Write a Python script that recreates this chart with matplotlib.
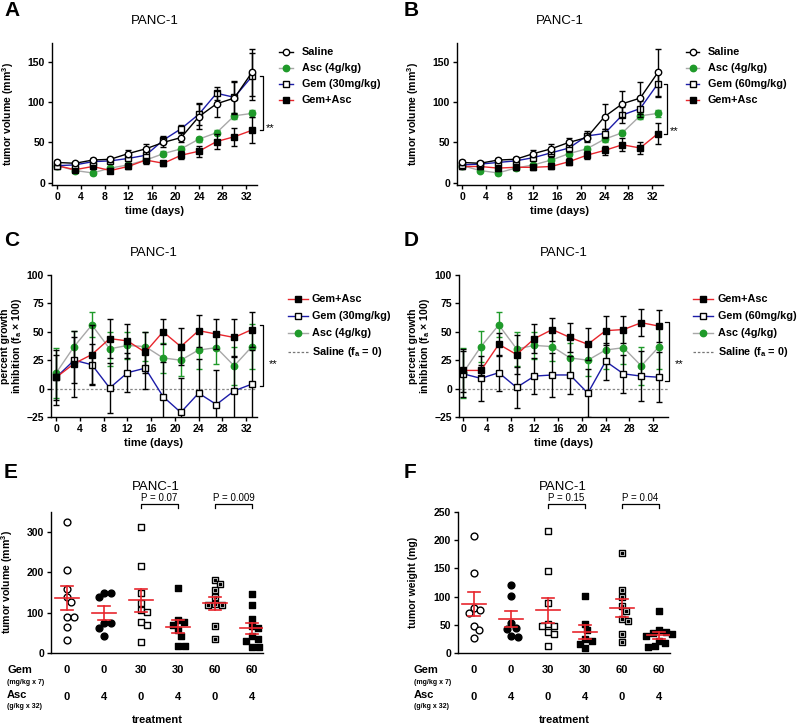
import matplotlib
matplotlib.use("Agg")
import matplotlib.pyplot as plt
from matplotlib.lines import Line2D
import numpy as np

plt.rcParams['font.family'] = ['Liberation Sans', 'DejaVu Sans']
plt.rcParams['font.size'] = 7.5
plt.rcParams['axes.linewidth'] = 1.0
plt.rcParams['mathtext.fontset'] = 'custom'
plt.rcParams['mathtext.rm'] = 'Liberation Sans:bold'
plt.rcParams['mathtext.default'] = 'regular'

# ---- data -------------------------------------------------------------
days = [0, 3, 6, 9, 12, 15, 18, 21, 24, 27, 30, 33]

# tumor volume (mm3), A and B
vol_saline = [25, 24, 28, 29, 36, 42, 50, 56, 82, 98, 105, 137]
vol_saline_err = [3, 2, 3, 3, 4, 6, 6, 6, 16, 16, 20, 29]
vol_asc = [21, 15, 12, 18, 22, 28, 36, 42, 54, 62, 83, 86]
vol_asc_err = [2, 2, 2, 2, 2, 3, 3, 3, 3, 3, 4, 4]
vol_gem30 = [21, 22, 26, 27, 30, 34, 53, 67, 85, 111, 106, 132]
vol_gem30_err = [3, 2, 3, 3, 3, 5, 5, 5, 14, 8, 20, 29]
vol_gem30_asc = [21, 16, 20, 15, 20, 28, 24, 34, 39, 51, 57, 65]
vol_gem30_asc_err = [3, 3, 3, 3, 3, 5, 3, 5, 7, 9, 11, 16]
vol_gem60 = [22, 23, 25, 27, 31, 37, 43, 58, 61, 84, 92, 123]
vol_gem60_err = [3, 3, 3, 3, 3, 5, 5, 6, 5, 10, 10, 16]
vol_gem60_asc = [20, 20, 18, 19, 19, 20, 26, 34, 40, 47, 43, 61]
vol_gem60_asc_err = [3, 3, 3, 3, 3, 3, 4, 5, 6, 8, 8, 13]

# percent growth inhibition, C and D
inh_asc = [14, 37, 56, 35, 38, 37, 27, 25, 34, 36, 20, 37]
inh_asc_err = [22, 14, 11, 15, 12, 13, 13, 14, 17, 14, 17, 20]
inh_c_combo = [10, 22, 30, 44, 42, 32, 50, 37, 51, 48, 45, 52]
inh_c_combo_err = [24, 29, 26, 17, 15, 18, 11, 16, 14, 13, 16, 15]
inh_c_gem = [10, 25, 21, 0.5, 14, 18, -7, -21, -4, -14, -2, 4]
inh_c_gem_err = [20, 20, 18, 22, 17, 18, 30, 30, 30, 30, 30, 30]
inh_d_combo = [16, 16, 39, 30, 44, 52, 45, 39, 51, 52, 58, 55]
inh_d_combo_err = [19, 5, 10, 17, 13, 10, 13, 14, 13, 12, 12, 14]
inh_d_gem = [13, 9, 14, 1, 11, 12, 12, -4, 24, 13, 11, 10]
inh_d_gem_err = [20, 20, 16, 18, 16, 19, 17, 21, 16, 17, 22, 22]

# endpoint scatter, E (volume) and F (weight)
gem_doses = ['0', '0', '30', '30', '60', '60']
asc_doses = ['0', '4', '0', '4', '0', '4']
e_groups = [
    [326, 205, 159, 140, 127, 89, 89, 64, 33],
    [150, 148, 139, 74, 74, 63, 43],
    [312, 216, 149, 124, 106, 101, 76, 69, 28],
    [161, 81, 76, 70, 56, 41, 17, 17],
    [182, 171, 157, 138, 121, 118, 119, 68, 35],
    [146, 120, 84, 66, 62, 41, 35, 31, 15, 14],
]
f_groups = [
    [208, 141, 80, 76, 71, 48, 40, 27],
    [121, 101, 53, 45, 43, 30, 28],
    [216, 145, 89, 52, 48, 47, 37, 33, 12],
    [101, 51, 40, 24, 22, 16, 9],
    [178, 111, 99, 83, 74, 60, 56, 33, 20],
    [74, 40, 38, 35, 33, 31, 22, 17, 12, 11],
]

GREEN = '#1f9a2a'
GRAY = '#a8a8a8'
BLUE = '#1c1ca8'
RED = '#e8262d'

W, H = 800, 725
fig = plt.figure(figsize=(W / 100, H / 100), dpi=100)


def add_ax(l, t, r, b):
    return fig.add_axes([l / W, 1 - b / H, (r - l) / W, (b - t) / H])


def fx(x):
    return x / W


def fy(y):
    return 1 - y / H


def style_ax(ax):
    for s in ['top', 'right']:
        ax.spines[s].set_visible(False)
    ax.tick_params(direction='out', length=3, width=1, labelsize=7.5, pad=2)
    for lab in ax.get_xticklabels() + ax.get_yticklabels():
        lab.set_fontweight('bold')


STYLES = {
    'saline': dict(marker='o', mfc='white', mec='black', line='black', ecolor='black'),
    'asc': dict(marker='o', mfc=GREEN, mec=GREEN, line=GRAY, ecolor=GREEN),
    'gem': dict(marker='s', mfc='white', mec='black', line=BLUE, ecolor='black'),
    'combo': dict(marker='s', mfc='black', mec='black', line=RED, ecolor='black'),
}


def plot_series(ax, y, err, key, z):
    st = STYLES[key]
    ax.errorbar(days, y, yerr=err, color=st['line'], lw=1, marker=st['marker'],
                mfc=st['mfc'], mec=st['mec'], mew=1, ms=4.6, ecolor=st['ecolor'],
                elinewidth=1, capsize=2.5, capthick=1, zorder=z)


def legend(x0, x1, xt, ys, keys, labels):
    for y, key, lab in zip(ys, keys, labels):
        if key == 'dash':
            fig.add_artist(Line2D([fx(x0), fx(x1)], [fy(y), fy(y)], color='#777777',
                                  lw=0.9, ls=(0, (2, 1.5)), transform=fig.transFigure))
        else:
            st = STYLES[key]
            fig.add_artist(Line2D([fx(x0), fx(x1)], [fy(y), fy(y)], color=st['line'],
                                  lw=1, transform=fig.transFigure))
            fig.add_artist(Line2D([fx((x0 + x1) / 2)], [fy(y)], marker=st['marker'],
                                  mfc=st['mfc'], mec=st['mec'], ms=4.6, mew=1,
                                  transform=fig.transFigure))
        fig.text(fx(xt), fy(y), lab, fontsize=7.8, fontweight='bold', va='center', ha='left')


def bracket(ax, x, y0, y1, dx=0.6):
    ax.plot([x - dx, x, x, x - dx], [y0, y0, y1, y1], color='black', lw=0.9, clip_on=False)


# ---- A and B -----------------------------------------------------------
for pos, gem, gem_err, combo, combo_err, letter, lx, legx, gemlab, bx in [
    ((52, 43, 257, 185), vol_gem30, vol_gem30_err, vol_gem30_asc, vol_gem30_asc_err,
     'A', 4, (279, 293, 302), 'Gem (30mg/kg)', 34.9),
    ((457, 43, 663, 185), vol_gem60, vol_gem60_err, vol_gem60_asc, vol_gem60_asc_err,
     'B', 404, (686, 699, 708), 'Gem (60mg/kg)', 34.6),
]:
    ax = add_ax(*pos)
    plot_series(ax, combo, combo_err, 'combo', 3)
    plot_series(ax, vol_asc, vol_asc_err, 'asc', 2)
    plot_series(ax, gem, gem_err, 'gem', 4)
    plot_series(ax, vol_saline, vol_saline_err, 'saline', 5)
    ax.set_xlim(-0.9, 33.85)
    ax.set_ylim(-3, 173.5)
    ax.set_xticks(range(0, 33, 4))
    ax.set_yticks([0, 50, 100, 150])
    ax.set_xlabel('time (days)', fontweight='bold', fontsize=8, labelpad=3)
    ax.set_ylabel(r'tumor volume (mm$^\mathregular{3}$)', fontweight='bold', fontsize=7.6)
    ax.yaxis.set_label_coords(-0.175, 0.5)
    ax.set_title('PANC-1', fontsize=9.5, pad=14)
    style_ax(ax)
    bracket(ax, bx, gem[-1], combo[-1])
    ax.text(bx + 0.4, combo[-1] + 3, '**', fontsize=8, ha='left', va='center')
    fig.text(fx(lx), fy(10), letter, fontsize=15, fontweight='bold', va='center')
    legend(legx[0], legx[1], legx[2], [52, 68, 84, 100], ['saline', 'asc', 'gem', 'combo'],
           ['Saline', 'Asc (4g/kg)', gemlab, 'Gem+Asc'])

# ---- C and D -----------------------------------------------------------
for pos, gem, gem_err, combo, combo_err, letter, lx, legx, gemlab, bx, xl, blow in [
    ((51, 275, 257, 417), inh_c_gem, inh_c_gem_err, inh_c_combo, inh_c_combo_err,
     'C', 4, (288, 308, 312), 'Gem (30mg/kg)', 34.9, (-0.9, 33.85), 2),
    ((459, 275, 668, 417), inh_d_gem, inh_d_gem_err, inh_d_combo, inh_d_combo_err,
     'D', 404, (693, 713, 718), 'Gem (60mg/kg)', 34.6, (-0.7, 34.5), 7),
]:
    ax = add_ax(*pos)
    ax.axhline(0, color='#888888', lw=0.9, ls=(0, (2, 1.5)), zorder=1)
    plot_series(ax, inh_asc, inh_asc_err, 'asc', 2)
    plot_series(ax, gem, gem_err, 'gem', 3)
    plot_series(ax, combo, combo_err, 'combo', 4)
    ax.set_xlim(*xl)
    ax.set_ylim(-25, 100)
    ax.set_xticks(range(0, 33, 4))
    ax.set_yticks([-25, 0, 25, 50, 75, 100])
    ax.set_xlabel('time (days)', fontweight='bold', fontsize=8, labelpad=3)
    ax.set_ylabel('percent growth\n' + r'inhibition (f$_\mathregular{a}$ $\times$ 100)',
                  fontweight='bold', fontsize=7.6, linespacing=1.0)
    ax.yaxis.set_label_coords(-0.13, 0.5)
    ax.set_title('PANC-1', fontsize=9.5, pad=14)
    style_ax(ax)
    bracket(ax, bx, combo[-1] + 4, blow)
    ax.text(bx + 1.0, 22, '**', fontsize=8, ha='left', va='center')
    fig.text(fx(lx), fy(240), letter, fontsize=15, fontweight='bold', va='center')
    legend(legx[0], legx[1], legx[2], [299, 316, 333, 352], ['combo', 'gem', 'asc', 'dash'],
           ['Gem+Asc', gemlab, 'Asc (4g/kg)', r'Saline (f$_\mathregular{a}$ = 0)'])


# ---- E and F -----------------------------------------------------------
def swarm(values, ypx, xpx, d=6.6):
    # simple beeswarm: nudge each point sideways until it clears the others
    order = np.argsort(values)[::-1]
    placed = []
    xs = np.zeros(len(values))
    cands = [0.0]
    for k in range(1, 60):
        cands += [k * 0.5, -k * 0.5]
    for i in order:
        y = values[i] * ypx
        for c in cands:
            if all((c - px) ** 2 + (y - py) ** 2 >= d * d for px, py in placed):
                break
        placed.append((c, y))
        xs[i] = c / xpx
    return xs


E_MARK = [
    dict(marker='o', fc='white'), dict(marker='o', fc='black'),
    dict(marker='s', fc='white'), dict(marker='s', fc='black'),
    dict(marker='s', fc='white', dot=True), dict(marker='s', fc='black'),
]

for pos, groups, ymax, yt, ylab, letter, lx, pvals, ylpos in [
    ((51, 512, 263, 653), e_groups, 350, [0, 100, 200, 300],
     r'tumor volume (mm$^\mathregular{3}$)', 'E', 4, ['P = 0.07', 'P = 0.009'], -0.17),
    ((458, 512, 670, 653), f_groups, 250, [0, 50, 100, 150, 200, 250],
     'tumor weight (mg)', 'F', 404, ['P = 0.15', 'P = 0.04'], -0.19),
]:
    ax = add_ax(*pos)
    ypx = (pos[3] - pos[1]) / ymax
    xpx = 36.8
    for i, vals in enumerate(groups):
        cat = i + 1
        vals = np.array(vals, dtype=float)
        xs = cat + swarm(vals, ypx, xpx)
        m = E_MARK[i]
        ax.scatter(xs, vals, s=24, marker=m['marker'], facecolors=m['fc'],
                   edgecolors='black', linewidths=1, zorder=3, clip_on=False)
        if m.get('dot'):
            ax.scatter(xs, vals, s=2.5, marker='s', color='black', zorder=4, clip_on=False)
        mean = vals.mean()
        sem = vals.std(ddof=1) / np.sqrt(len(vals))
        ax.plot([cat - 0.32, cat + 0.32], [mean, mean], color=RED, lw=1.2, zorder=5)
        ax.plot([cat, cat], [mean - sem, mean + sem], color=RED, lw=1.2, zorder=5)
        for v in (mean - sem, mean + sem):
            ax.plot([cat - 0.16, cat + 0.16], [v, v], color=RED, lw=1.2, zorder=5)
    ax.set_xlim(0.57, 6.3)
    ax.set_ylim(0, ymax)
    ax.set_xticks([])
    ax.set_yticks(yt)
    ax.set_ylabel(ylab, fontweight='bold', fontsize=7.6)
    ax.yaxis.set_label_coords(ylpos, 0.5)
    style_ax(ax)
    tr = ax.get_xaxis_transform()
    ax.text(3.4, 1.18, 'PANC-1', transform=tr, fontsize=9.5, ha='center', va='center')
    for (a, b), p in zip([(3, 4), (5, 6)], pvals):
        ax.plot([a, a, b, b], [1.025, 1.055, 1.055, 1.025], transform=tr, color='black',
                lw=0.9, clip_on=False)
        ax.text((a + b) / 2, 1.1, p, transform=tr, fontsize=7, ha='center', va='center')
    for i in range(6):
        ax.text(i + 1, -0.12, gem_doses[i], transform=tr, fontsize=8, fontweight='bold',
                ha='center', va='center')
        ax.text(i + 1, -0.31, asc_doses[i], transform=tr, fontsize=8, fontweight='bold',
                ha='center', va='center')
    x0 = pos[0] - 44
    fig.text(fx(x0), fy(670), 'Gem', fontsize=8, fontweight='bold', va='center')
    fig.text(fx(x0), fy(682), '(mg/kg x 7)', fontsize=5, fontweight='bold', va='center')
    fig.text(fx(x0), fy(695), 'Asc', fontsize=8, fontweight='bold', va='center')
    fig.text(fx(x0), fy(706), '(g/kg x 32)', fontsize=5, fontweight='bold', va='center')
    fig.text(fx(pos[0] + 106), fy(720), 'treatment', fontsize=8, fontweight='bold',
             ha='center', va='center')
    fig.text(fx(lx), fy(472), letter, fontsize=15, fontweight='bold', va='center')

fig.savefig('out.png', dpi=100)
